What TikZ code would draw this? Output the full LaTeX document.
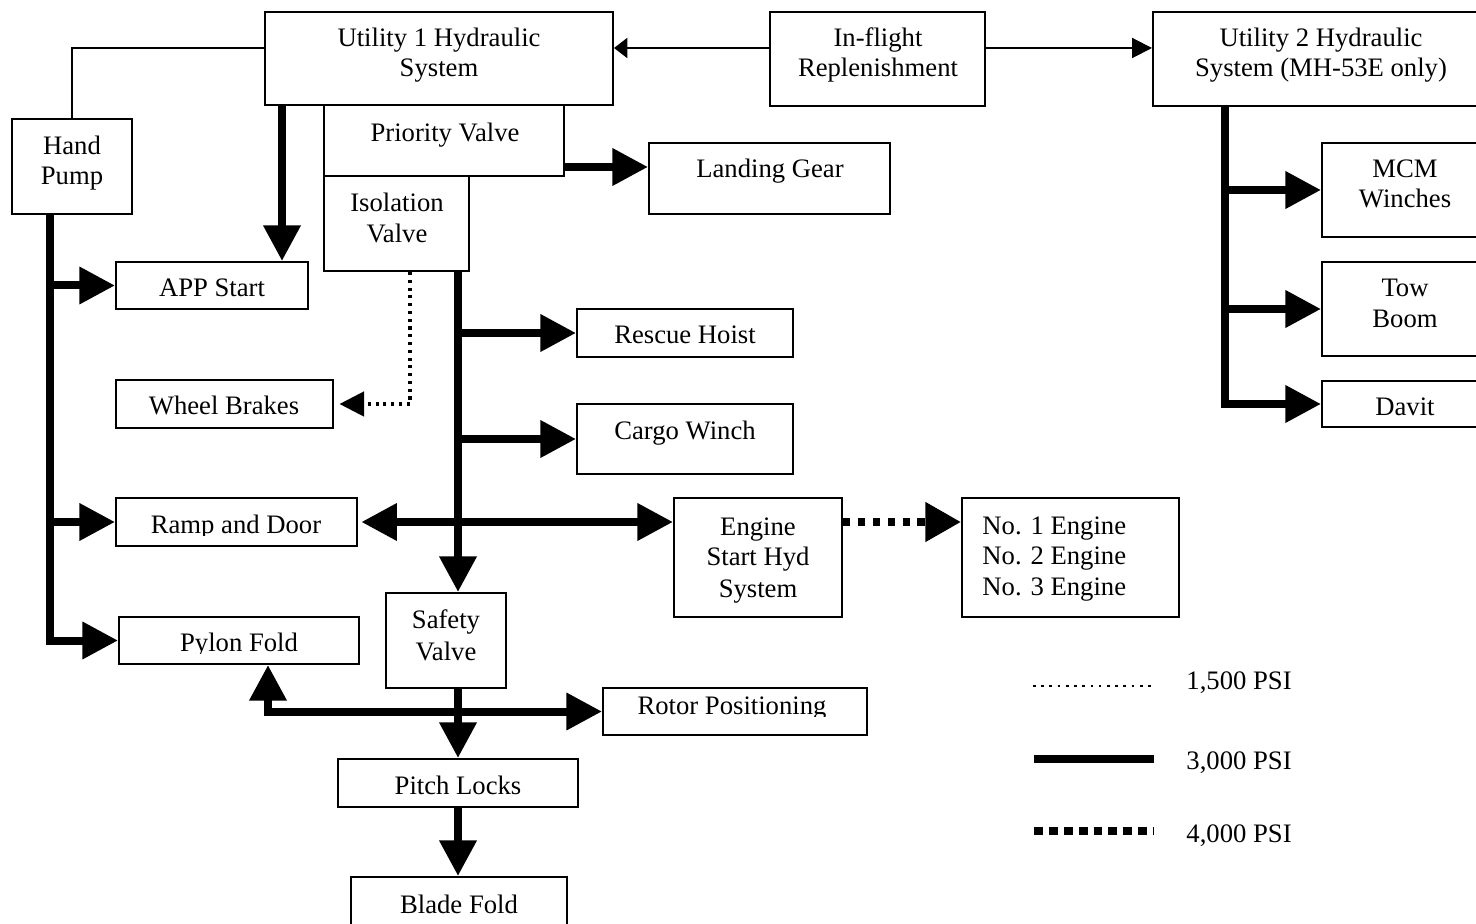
\documentclass[tikz,border=0pt]{standalone}
\usepackage{fontspec}
\setmainfont{Liberation Serif}
\usetikzlibrary{arrows.meta,calc}
\newcommand\mybox[5]{\node[box,minimum width={(#4-#2)*0.45pt},minimum height={(#5-#3)*0.45pt}] (#1) at ({(#2+#4)/2},{(#3+#5)/2}) {};}
\begin{document}
\begin{tikzpicture}[x=0.45pt,y=-0.45pt,
  box/.style={draw,line width=0.9pt,inner sep=0pt},
  tl/.style={inner sep=0pt,anchor=base,font=\fontsize{12}{13.8}\selectfont},
  tlw/.style={tl,anchor=base west},
  thinline/.style={line width=0.9pt},
  thinarrowL/.style={thinline,-{Triangle[length=6pt,width=9pt]}},
  thinarrowR/.style={thinline,-{Triangle[length=9pt,width=9pt]}},
  pipe/.style={line width=3.6pt},
  pipearrow/.style={pipe,-{Triangle[length=16pt,width=16pt]}},
  pipetwo/.style={pipe,{Triangle[length=16pt,width=16pt]}-{Triangle[length=16pt,width=16pt]}},
  dotarrow/.style={line width=1.4pt,dash pattern=on 1.4pt off 2.1pt,-{Triangle[length=11pt,width=11pt]}},
  dasharrow/.style={pipe,dash pattern=on 3.2pt off 3.5pt,-{Triangle[length=16pt,width=17pt]}},
  legdots/.style={line width=1.2pt,dash pattern=on 1.2pt off 2.5pt},
  legdash/.style={pipe,dash pattern=on 4pt off 2.7pt}
]
\useasboundingbox (0,0) rectangle (1476,924);

% boxes
\mybox{u1}{265}{12}{613}{105}
\mybox{pv}{324}{105}{564}{176}
\mybox{iv}{324}{176}{469}{271}
\mybox{hp}{12}{119}{132}{214}
\mybox{app}{116}{262}{308}{309}
\mybox{ifr}{770}{12}{985}{106}
\mybox{u2}{1153}{12}{1490}{106}
\mybox{lg}{649}{143}{890}{214}
\mybox{mcm}{1322}{143}{1490}{237}
\mybox{tow}{1322}{262}{1490}{356}
\mybox{dav}{1322}{381}{1490}{427}
\mybox{wb}{116}{380}{333}{428}
\mybox{rh}{577}{309}{793}{357}
\mybox{cw}{577}{404}{793}{474}
\mybox{rd}{116}{498}{357}{546}
\mybox{es}{674}{498}{842}{617}
\mybox{eng}{962}{498}{1179}{617}
\mybox{sv}{386}{593}{506}{688}
\mybox{pf}{119}{617}{359}{664}
\mybox{rp}{603}{688}{867}{735}
\mybox{pl}{338}{759}{578}{807}
\mybox{bf}{351}{877}{567}{940}

% texts
\node[tl] (u1a) at (439,47) {Utility 1 Hydraulic};
\node[tl] (u1b) at (439,77) {System};
\node[tl] (pvt) at (445,142) {Priority Valve};
\node[tl] (iva) at (397,212) {Isolation};
\node[tl] (ivb) at (397,243) {Valve};
\node[tl] (hpa) at (72,155) {Hand};
\node[tl] (hpb) at (72,185) {Pump};
\node[tl] (appt) at (212,297) {APP Start};
\node[tl] (ifra) at (878,47) {In-flight};
\node[tl] (ifrb) at (878,77) {Replenishment};
\node[tl] (u2a) at (1321,47) {Utility 2 Hydraulic};
\node[tl] (u2b) at (1321,77) {System (MH-53E only)};
\node[tl] (lgt) at (770,178) {Landing Gear};
\node[tl] (mcma) at (1405,178) {MCM};
\node[tl] (mcmb) at (1405,208) {Winches};
\node[tl] (towa) at (1405,297) {Tow};
\node[tl] (towb) at (1405,328) {Boom};
\node[tl] (davt) at (1405,416) {Davit};
\node[tl] (wbt) at (224,415) {Wheel Brakes};
\node[tl] (rht) at (685,344) {Rescue Hoist};
\node[tl] (cwt) at (685,440) {Cargo Winch};
\node[tl] (esa) at (758,535) {Engine};
\node[tl] (esb) at (758,565) {Start Hyd};
\node[tl] (esc) at (758,597) {System};
\node[tlw] (enga) at (982,534) {No. 1 Engine};
\node[tlw] (engb) at (982,564) {No. 2 Engine};
\node[tlw] (engc) at (982,595) {No. 3 Engine};
\node[tl] (sva) at (446,628) {Safety};
\node[tl] (svb) at (446,660) {Valve};
\node[tl] (plt) at (458,794) {Pitch Locks};
\node[tl] (bft) at (459,913) {Blade Fold};

% clipped labels
\begin{scope}
  \clip (116,498) rectangle (357,535);
  \node[tl] (rdt) at (236,533) {Ramp and Door};
\end{scope}
\begin{scope}
  \clip (119,617) rectangle (359,653);
  \node[tl] (pft) at (239,651) {Pylon Fold};
\end{scope}
\begin{scope}
  \clip (603,688) rectangle (867,716);
  \node[tl] (rpt) at (732,714) {Rotor Positioning};
\end{scope}

% helper coordinates
\coordinate (yA) at (0,48);
\coordinate (xA) at (282,0);
\coordinate (yL) at (0,167);
\coordinate (xH) at (50,0);
\coordinate (xD) at (410,0);
\coordinate (xV) at (458,0);
\coordinate (xP) at (268,0);
\coordinate (xU) at (1225,0);

% thin connectors
\draw[thinline] (hp.north) |- (u1.west |- yA);
\draw[thinarrowL] (ifr.west |- yA) -- (u1.east |- yA);
\draw[thinarrowR] (ifr.east |- yA) -- (u2.west |- yA);

% 3000 psi
\draw[pipearrow] (u1.south -| xA) -- (app.north -| xA);
\draw[pipearrow] (pv.east |- yL) -- (lg.west |- yL);
\draw[pipearrow] (hp.south -| xH) |- (pf.west);
\draw[pipearrow] (xH |- app.west) -- (app.west);
\draw[pipearrow] (xH |- rd.west) -- (rd.west);
\draw[pipearrow] (iv.south -| xV) -- (sv.north -| xV);
\draw[pipearrow] (xV |- rh.west) -- (rh.west);
\draw[pipearrow] (xV |- cw.west) -- (cw.west);
\draw[pipetwo,shorten <=1.5pt] (rd.east) -- (es.west |- rd.east);
\draw[pipearrow] (sv.south -| xV) -- (pl.north -| xV);
\draw[pipetwo] (pf.south -| xP) |- (rp.west);
\draw[pipearrow] (pl.south -| xV) -- (bf.north -| xV);
\draw[pipearrow] (u2.south -| xU) |- (dav.west);
\draw[pipearrow] (xU |- mcm.west) -- (mcm.west);
\draw[pipearrow] (xU |- tow.west) -- (tow.west);

% 1500 psi
\draw[dotarrow,shorten >=2.5pt] (iv.south -| xD) |- (wb.east);

% 4000 psi
\draw[dasharrow] (es.east |- rd.east) -- (eng.west |- rd.east);

% legend
\draw[legdots] (1033,686) -- (1152,686);
\node[tlw] (l1) at (1186,689) {1,500 PSI};
\draw[pipe] (1034,759) -- (1154,759);
\node[tlw] (l2) at (1186,769) {3,000 PSI};
\draw[legdash] (1034,831) -- (1154,831);
\node[tlw] (l3) at (1186,842) {4,000 PSI};
\end{tikzpicture}
\end{document}
